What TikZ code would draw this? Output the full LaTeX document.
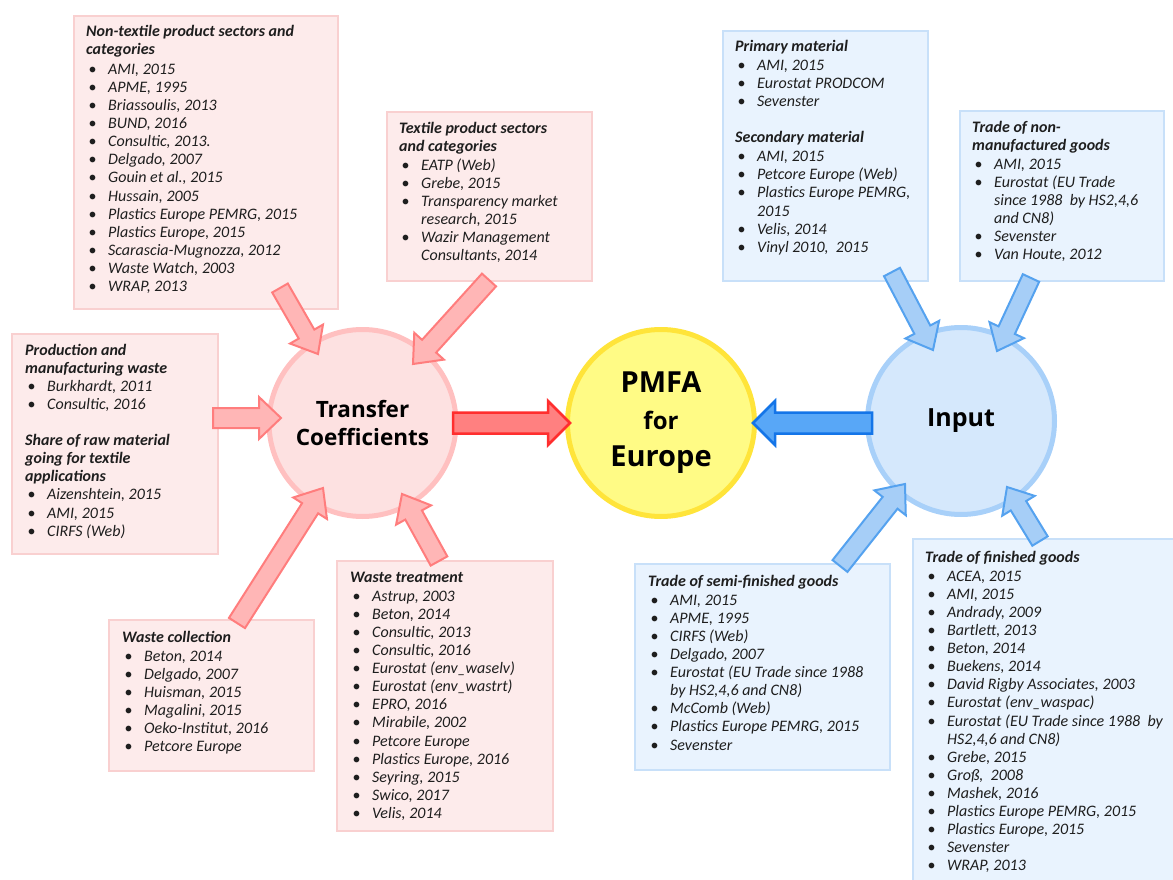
\documentclass[tikz,border=0pt]{standalone}
\usepackage{fontspec}
\setmainfont{Carlito}
\newfontfamily\osans{Open Sans}
\usetikzlibrary{calc}

\definecolor{pinkfill}{HTML}{FDEBEB}
\definecolor{pinkedge}{HTML}{F9D0D0}
\definecolor{bluefill}{HTML}{E9F3FE}
\definecolor{blueedge}{HTML}{C8E0F9}
\definecolor{tcfill}{HTML}{FDE1E1}
\definecolor{tcedge}{HTML}{FFC0C0}
\definecolor{infill}{HTML}{D5E8FC}
\definecolor{inedge}{HTML}{A8D0F9}
\definecolor{yfill}{HTML}{FFFB85}
\definecolor{yedge}{HTML}{FFE43A}
\definecolor{parrowfill}{HTML}{FFB6B6}
\definecolor{parrowedge}{HTML}{FF7D7D}
\definecolor{rarrowfill}{HTML}{FF8080}
\definecolor{rarrowedge}{HTML}{FF2E2E}
\definecolor{barrowfill}{HTML}{A6CEF7}
\definecolor{barrowedge}{HTML}{55A2EF}
\definecolor{darrowfill}{HTML}{58A7F7}
\definecolor{darrowedge}{HTML}{1475E8}
\definecolor{txt}{HTML}{1E1E1E}

\newcommand\bi{\hspace*{2.5pt}\makebox[19.5pt][l]{\upshape\textbullet}}
\newcommand\ci{\hspace*{22pt}}

\newcommand\blockarrow[6]{%
  \path ($(#3)!#6!(#2)$) coordinate (bah);
  \filldraw[#1] ($(#2)!#4!90:(#3)$) -- ($(bah)!#4!90:(#3)$) -- ($(bah)!#5!90:(#3)$)
    -- (#3) -- ($(bah)!#5!-90:(#3)$) -- ($(bah)!#4!-90:(#3)$) -- ($(#2)!#4!-90:(#3)$) -- cycle;
}

\tikzset{
  pinkbox/.style={draw=pinkedge, fill=pinkfill, line width=2pt, inner sep=0pt, anchor=north west},
  bluebox/.style={draw=blueedge, fill=bluefill, line width=2pt, inner sep=0pt, anchor=north west},
  reftext/.style={anchor=north west, inner sep=0pt, align=left, text=txt,
    font=\fontsize{16}{18.1}\selectfont\itshape},
  circ/.style={circle, minimum size=187pt, line width=5pt, inner sep=0pt, align=center},
  pinkarrow/.style={fill=parrowfill, draw=parrowedge, line width=2pt, line join=miter},
  redarrow/.style={fill=rarrowfill, draw=rarrowedge, line width=2.5pt},
  bluearrow/.style={fill=barrowfill, draw=barrowedge, line width=2pt},
  darkarrow/.style={fill=darrowfill, draw=darrowedge, line width=2.5pt},
}

\begin{document}
\begin{tikzpicture}[x=1pt,y=-1pt]
\useasboundingbox (0,0) rectangle (1173,880);

% boxes
\node[pinkbox, minimum width=264pt, minimum height=293pt] (bNT) at (73,15) {};
\node[pinkbox, minimum width=205pt, minimum height=169pt] (bTX) at (386,111) {};
\node[pinkbox, minimum width=206pt, minimum height=220pt] (bPR) at (11,333) {};
\node[bluebox, minimum width=205pt, minimum height=250pt] (bPM) at (722,30) {};
\node[bluebox, minimum width=204pt, minimum height=170pt] (bNM) at (959,110) {};
\node[pinkbox, minimum width=205pt, minimum height=151pt] (bWC) at (108,619) {};
\node[pinkbox, minimum width=216pt, minimum height=270pt] (bWT) at (336,560) {};
\node[bluebox, minimum width=255pt, minimum height=206pt] (bSF) at (634,563) {};
\node[bluebox, minimum width=265pt, minimum height=346pt] (bFG) at (912,538) {};

% texts
\node[reftext] (tNT) at (86,23.3) {\strut\textbf{Non-textile product sectors and}\\ \textbf{categories}\\[2pt]
\bi AMI, 2015\\ \bi APME, 1995\\ \bi Briassoulis, 2013\\ \bi BUND, 2016\\ \bi Consultic, 2013.\\
\bi Delgado, 2007\\ \bi Gouin et al., 2015\\ \bi Hussain, 2005\\ \bi Plastics Europe PEMRG, 2015\\
\bi Plastics Europe, 2015\\ \bi Scarascia-Mugnozza, 2012\\ \bi Waste Watch, 2003\\ \bi WRAP, 2013};

\node[reftext] (tTX) at (399,120.3) {\strut\textbf{Textile product sectors}\\ \textbf{and categories}\\[1pt]
\bi EATP (Web)\\ \bi Grebe, 2015\\ \bi Transparency market\\ \ci research, 2015\\
\bi Wazir Management\\ \ci Consultants, 2014};

\node[reftext] (tPR) at (25,342.3) {\strut\textbf{Production and}\\ \textbf{manufacturing waste}\\
\bi Burkhardt, 2011\\ \bi Consultic, 2016\\[18.1pt]
\textbf{Share of raw material}\\ \textbf{going for textile}\\ \textbf{applications}\\
\bi Aizenshtein, 2015\\ \bi AMI, 2015\\ \bi CIRFS (Web)};

\node[reftext] (tPM) at (735,38.3) {\strut\textbf{Primary material}\\[1pt]
\bi AMI, 2015\\ \bi Eurostat PRODCOM\\ \bi Sevenster\\[18.1pt]
\textbf{Secondary material}\\[1pt]
\bi AMI, 2015\\ \bi Petcore Europe (Web)\\ \bi Plastics Europe PEMRG,\\ \ci 2015\\
\bi Velis, 2014\\ \bi Vinyl 2010,\ \ 2015};

\node[reftext] (tNM) at (972,119.3) {\strut\textbf{Trade of non-}\\ \textbf{manufactured goods}\\[1pt]
\bi AMI, 2015\\ \bi Eurostat (EU Trade\\ \ci since 1988\ \ by HS2,4,6\\ \ci and CN8)\\
\bi Sevenster\\ \bi Van Houte, 2012};

\node[reftext] (tWC) at (122,629.3) {\strut\textbf{Waste collection}\\[1pt]
\bi Beton, 2014\\ \bi Delgado, 2007\\ \bi Huisman, 2015\\ \bi Magalini, 2015\\
\bi Oeko-Institut, 2016\\ \bi Petcore Europe};

\node[reftext] (tWT) at (350,569.3) {\strut\textbf{Waste treatment}\\[1pt]
\bi Astrup, 2003\\ \bi Beton, 2014\\ \bi Consultic, 2013\\ \bi Consultic, 2016\\
\bi Eurostat (env\_waselv)\\ \bi Eurostat (env\_wastrt)\\ \bi EPRO, 2016\\ \bi Mirabile, 2002\\
\bi Petcore Europe\\ \bi Plastics Europe, 2016\\ \bi Seyring, 2015\\ \bi Swico, 2017\\ \bi Velis, 2014};

\node[reftext] (tSF) at (648,573.3) {\strut\textbf{Trade of semi-finished goods}\\[1pt]
\bi AMI, 2015\\ \bi APME, 1995\\ \bi CIRFS (Web)\\ \bi Delgado, 2007\\
\bi Eurostat (EU Trade since 1988\\ \ci by HS2,4,6 and CN8)\\ \bi McComb (Web)\\
\bi Plastics Europe PEMRG, 2015\\ \bi Sevenster};

\node[reftext] (tFG) at (925,549.3) {\strut\textbf{Trade of finished goods}\\[1pt]
\bi ACEA, 2015\\ \bi AMI, 2015\\ \bi Andrady, 2009\\ \bi Bartlett, 2013\\ \bi Beton, 2014\\
\bi Buekens, 2014\\ \bi David Rigby Associates, 2003\\ \bi Eurostat (env\_waspac)\\
\bi Eurostat (EU Trade since 1988\ \ by\\ \ci HS2,4,6 and CN8)\\ \bi Grebe, 2015\\
\bi Groß,\ \ 2008\\ \bi Mashek, 2016\\ \bi Plastics Europe PEMRG, 2015\\
\bi Plastics Europe, 2015\\ \bi Sevenster\\ \bi WRAP, 2013};

% circles
\node[circ, draw=tcedge, fill=tcfill, font=\osans\bfseries\fontsize{22.5}{28}\selectfont] (tc) at (362.5,423) {Transfer\\Coefficients};
\node[circ, draw=yedge, fill=yfill, font=\osans\bfseries\fontsize{29}{37}\selectfont] (pm) at (661,423) {PMFA\\{\fontsize{24}{37}\selectfont for}\\Europe};
\node[circ, draw=inedge, fill=infill, font=\osans\bfseries\fontsize{25}{28}\selectfont] (in) at (961,421) {Input};

% arrow end points
\coordinate (a1) at (280,288); \coordinate (b1) at (318,354);
\coordinate (a2) at (489,280); \coordinate (b2) at (413,364);
\coordinate (a3) at (213,418); \coordinate (b3) at (281,418);
\coordinate (a4) at (237,623); \coordinate (b4) at (323,488);
\coordinate (a5) at (439,561); \coordinate (b5) at (402,494);
\coordinate (a6) at (453,423); \coordinate (b6) at (570,423);
\coordinate (a7) at (872,423); \coordinate (b7) at (753,423);
\coordinate (a8) at (892,272); \coordinate (b8) at (933,350);
\coordinate (a9) at (1031,278); \coordinate (b9) at (997,351);
\coordinate (a10) at (840,566); \coordinate (b10) at (905,484);
\coordinate (a11) at (1040,541); \coordinate (b11) at (1007,487);

\blockarrow{pinkarrow}{a1}{b1}{9pt}{19pt}{23pt}
\blockarrow{pinkarrow}{a2}{b2}{9.5pt}{20pt}{24pt}
\blockarrow{pinkarrow}{a3}{b3}{10pt}{21pt}{22pt}
\blockarrow{pinkarrow}{a4}{b4}{9.5pt}{20pt}{24pt}
\blockarrow{pinkarrow}{a5}{b5}{9.5pt}{20pt}{24pt}
\blockarrow{redarrow}{a6}{b6}{10.5pt}{22pt}{22pt}
\blockarrow{darkarrow}{a7}{b7}{10.5pt}{22pt}{22pt}
\blockarrow{bluearrow}{a8}{b8}{9pt}{19pt}{23pt}
\blockarrow{bluearrow}{a9}{b9}{9pt}{19pt}{23pt}
\blockarrow{bluearrow}{a10}{b10}{9.5pt}{20pt}{24pt}
\blockarrow{bluearrow}{a11}{b11}{9pt}{19pt}{22pt}
\end{tikzpicture}
\end{document}
